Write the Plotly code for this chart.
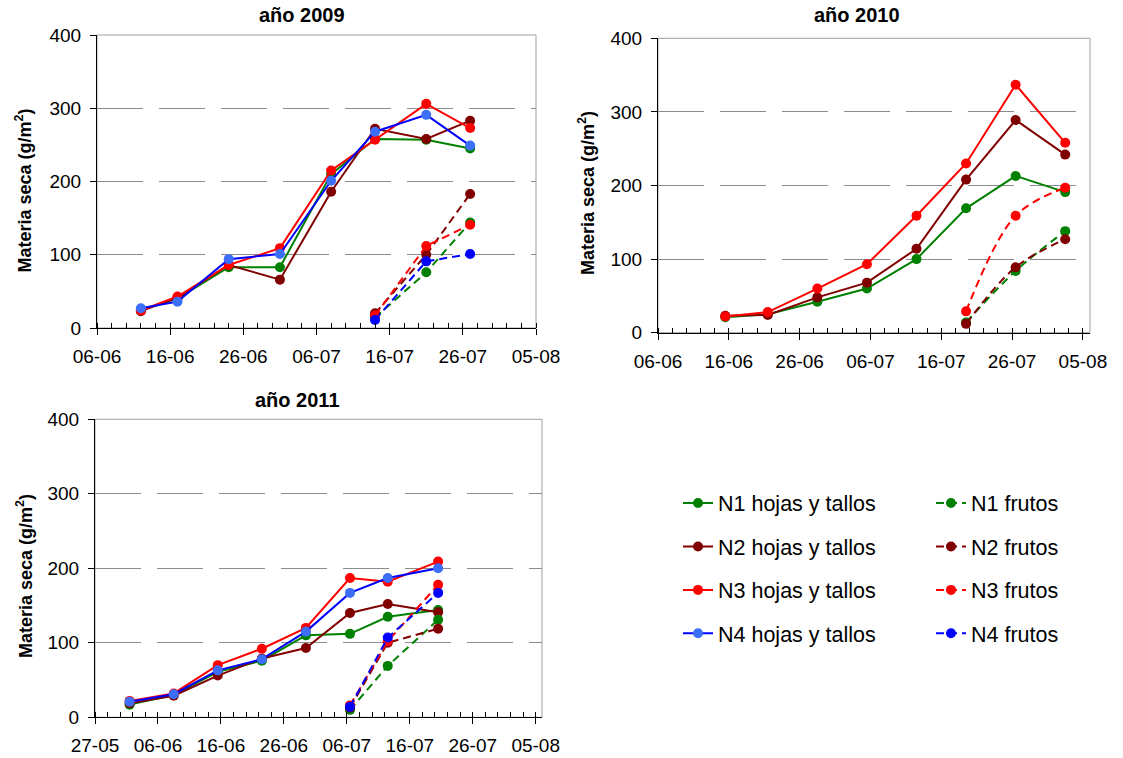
import pandas as pd
import plotly.graph_objects as go

# ---------------- data: dry matter (g/m2) ----------------
dates_2009 = ["2009-06-12", "2009-06-17", "2009-06-24", "2009-07-01",
              "2009-07-08", "2009-07-14", "2009-07-21", "2009-07-27"]
n1_hojas_2009 = [25, 40, 83, 83, 210, 258, 257, 245]
n2_hojas_2009 = [23, 41, 86, 66, 186, 272, 258, 283]
n3_hojas_2009 = [24, 43, 86, 109, 215, 257, 306, 273]
n4_hojas_2009 = [27, 36, 94, 101, 201, 268, 291, 249]
fruto_dates_2009 = dates_2009[5:]
n1_frutos_2009 = [14, 76, 144]
n2_frutos_2009 = [20, 100, 183]
n3_frutos_2009 = [17, 112, 141]
n4_frutos_2009 = [11, 91, 101]

dates_2010 = ["2010-06-15", "2010-06-21", "2010-06-28", "2010-07-05",
              "2010-07-12", "2010-07-19", "2010-07-26", "2010-08-02"]
n1_hojas_2010 = [21, 25, 42, 60, 100, 169, 213, 191]
n2_hojas_2010 = [23, 24, 48, 68, 114, 208, 289, 242]
n3_hojas_2010 = [22, 28, 60, 93, 159, 230, 337, 258]
fruto_dates_2010 = dates_2010[5:]
n1_frutos_2010 = [14, 84, 138]
n2_frutos_2010 = [12, 89, 127]
n3_frutos_2010 = [29, 159, 197]

dates_2011 = ["2011-06-01", "2011-06-08", "2011-06-15", "2011-06-22",
              "2011-06-29", "2011-07-06", "2011-07-12", "2011-07-20"]
n1_hojas_2011 = [17, 30, 61, 76, 110, 112, 135, 144]
n2_hojas_2011 = [19, 29, 56, 79, 93, 140, 152, 141]
n3_hojas_2011 = [22, 32, 70, 92, 120, 187, 182, 209]
n4_hojas_2011 = [21, 31, 63, 78, 115, 167, 187, 200]
fruto_dates_2011 = dates_2011[5:]
n1_frutos_2011 = [10, 69, 131]
n2_frutos_2011 = [13, 100, 119]
n3_frutos_2011 = [16, 102, 178]
n4_frutos_2011 = [14, 107, 167]

# ---------------- style ----------------
W, H = 1123, 758
FONT = "Liberation Sans, Arial, Helvetica, sans-serif"
DAY = 86400000
GREEN, DARKRED, RED, BLUE, LIGHTBLUE = "#008000", "#800000", "#FF0000", "#0000FF", "#3D6EF7"
DASH = "8px,5px"

series_style = {
    "N1": dict(line=GREEN, marker=GREEN, fmarker=GREEN, fline=GREEN),
    "N2": dict(line=DARKRED, marker=DARKRED, fmarker=DARKRED, fline=DARKRED),
    "N3": dict(line=RED, marker=RED, fmarker=RED, fline=RED),
    "N4": dict(line=BLUE, marker=LIGHTBLUE, fmarker=BLUE, fline=BLUE),
}

# 2010 and 2011 date axes place each point in the middle of its day slot
slot_center = pd.Timedelta(hours=12)


def to_x(dates, centered):
    d = pd.to_datetime(dates)
    if centered:
        d = d + slot_center
    return d


fig = go.Figure()


def add_hojas(dates, values, key, axis_n, centered, show):
    st = series_style[key]
    fig.add_trace(go.Scatter(
        x=to_x(dates, centered), y=values, mode="lines+markers",
        name=f"{key} hojas y tallos", legendgroup=f"{key}h", showlegend=show,
        legend="legend",
        line=dict(color=st["line"], width=2),
        marker=dict(color=st["marker"], size=10, symbol="circle"),
        xaxis=f"x{axis_n if axis_n > 1 else ''}", yaxis=f"y{axis_n if axis_n > 1 else ''}",
    ))


def add_frutos(dates, values, key, axis_n, centered, show, shape="linear"):
    st = series_style[key]
    fig.add_trace(go.Scatter(
        x=to_x(dates, centered), y=values, mode="lines+markers",
        name=f"{key} frutos", legendgroup=f"{key}f", showlegend=show,
        legend="legend2",
        line=dict(color=st["fline"], width=2, dash=DASH, shape=shape),
        marker=dict(color=st["fmarker"], size=10, symbol="circle"),
        xaxis=f"x{axis_n if axis_n > 1 else ''}", yaxis=f"y{axis_n if axis_n > 1 else ''}",
    ))


# 2009
for key, vals in [("N1", n1_hojas_2009), ("N2", n2_hojas_2009),
                  ("N3", n3_hojas_2009), ("N4", n4_hojas_2009)]:
    add_hojas(dates_2009, vals, key, 1, False, True)
for key, vals in [("N1", n1_frutos_2009), ("N2", n2_frutos_2009),
                  ("N3", n3_frutos_2009), ("N4", n4_frutos_2009)]:
    add_frutos(fruto_dates_2009, vals, key, 1, False, True)

# 2010
for key, vals in [("N1", n1_hojas_2010), ("N2", n2_hojas_2010), ("N3", n3_hojas_2010)]:
    add_hojas(dates_2010, vals, key, 2, True, False)
for key, vals in [("N1", n1_frutos_2010), ("N2", n2_frutos_2010), ("N3", n3_frutos_2010)]:
    add_frutos(fruto_dates_2010, vals, key, 2, True, False, shape="spline")

# 2011
for key, vals in [("N1", n1_hojas_2011), ("N2", n2_hojas_2011),
                  ("N3", n3_hojas_2011), ("N4", n4_hojas_2011)]:
    add_hojas(dates_2011, vals, key, 3, True, False)
for key, vals in [("N1", n1_frutos_2011), ("N2", n2_frutos_2011),
                  ("N3", n3_frutos_2011), ("N4", n4_frutos_2011)]:
    add_frutos(fruto_dates_2011, vals, key, 3, True, False)


# ---------------- axes ----------------
def px_x(a, b):
    return [a / W, b / W]


def px_y(top, bottom):
    return [1 - bottom / H, 1 - top / H]


def date_axis(start, end, domain, anchor):
    return dict(
        domain=domain, anchor=anchor, type="date", range=[start, end],
        tick0=start, dtick=10 * DAY, tickformat="%d-%m",
        ticks="outside", ticklen=6, tickcolor="#000", tickwidth=1,
        showline=True, linecolor="#000", linewidth=1,
        showgrid=False, zeroline=False, fixedrange=True, automargin=False,
        ticklabelstandoff=5,
        tickfont=dict(family=FONT, size=19, color="#000"),
        minor=dict(dtick=2 * DAY, tick0=start, ticks="inside", ticklen=5,
                   tickcolor="#000", tickwidth=1, showgrid=False),
    )


def value_axis(domain, anchor):
    return dict(
        domain=domain, anchor=anchor, range=[0, 400], dtick=100,
        ticks="outside", ticklen=6, tickcolor="#000", tickwidth=1,
        showline=True, linecolor="#000", linewidth=1,
        showgrid=True, gridcolor="#8C8C8C", gridwidth=1, griddash="46px,16px",
        zeroline=False, fixedrange=True, automargin=False,
        ticklabelstandoff=5,
        tickfont=dict(family=FONT, size=19, color="#000"),
    )


fig.update_layout(
    xaxis=date_axis("2009-06-06", "2009-08-05", px_x(97, 536), "y"),
    yaxis=value_axis(px_y(35, 328), "x"),
    xaxis2=date_axis("2010-06-06", "2010-08-06", px_x(658, 1090), "y2"),
    yaxis2=value_axis(px_y(38.3, 332.7), "x2"),
    xaxis3=date_axis("2011-05-27", "2011-08-06", px_x(95, 542), "y3"),
    yaxis3=value_axis(px_y(419.3, 717.3), "x3"),
)

# plot-area frames
shapes = []
for n in ["", "2", "3"]:
    shapes.append(dict(type="rect", xref=f"x{n} domain", yref=f"y{n} domain",
                       x0=0, x1=1, y0=0, y1=1, layer="below",
                       line=dict(color="#A0A0A0", width=1)))

# titles and axis labels
annotations = []
for text, cx, cy in [("año 2009", 301.5, 15), ("año 2010", 857, 14.5), ("año 2011", 297, 400)]:
    annotations.append(dict(text=f"<b>{text}</b>", x=cx / W, y=1 - cy / H,
                            xref="paper", yref="paper", xanchor="center", yanchor="middle",
                            showarrow=False, font=dict(family=FONT, size=20, color="#000")))
for cx, cy in [(24, 190.5), (586.5, 193.5), (24, 576)]:
    annotations.append(dict(text="<b>Materia seca (g/m<sup>2</sup>)</b>", x=cx / W, y=1 - cy / H,
                            xref="paper", yref="paper", xanchor="center", yanchor="middle",
                            textangle=-90, showarrow=False,
                            font=dict(family=FONT, size=18, color="#000")))

legend_common = dict(
    orientation="v", traceorder="grouped", tracegroupgap=12.5,
    font=dict(family=FONT, size=21.5, color="#000"),
    bgcolor="rgba(0,0,0,0)", borderwidth=0,
    xanchor="left", yanchor="top", itemclick="toggle",
)

fig.update_layout(
    width=W, height=H,
    margin=dict(l=0, r=0, t=0, b=0, autoexpand=False),
    paper_bgcolor="#FFFFFF", plot_bgcolor="#FFFFFF",
    font=dict(family=FONT, color="#000"),
    shapes=shapes, annotations=annotations,
    legend=dict(x=678 / W, y=1 - 482.5 / H, **legend_common),
    legend2=dict(x=931 / W, y=1 - 482.5 / H, **legend_common),
)

fig.write_html("out.html", config={"displayModeBar": False})
